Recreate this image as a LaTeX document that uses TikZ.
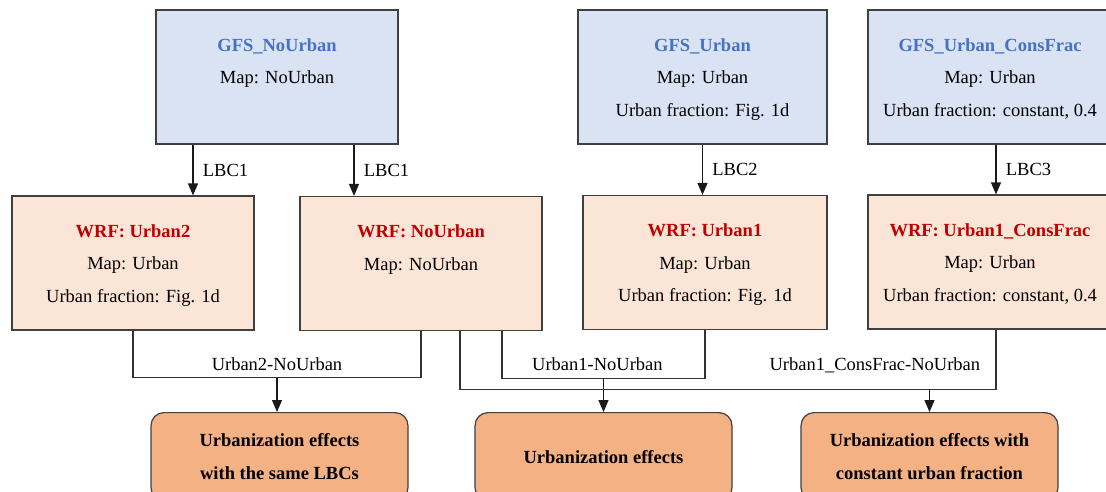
\documentclass[tikz,border=0pt]{standalone}
\usepackage{fontspec}
\setmainfont{Liberation Serif}
\usepackage{xcolor}
\definecolor{gfsfill}{HTML}{DAE3F3}
\definecolor{gfsblue}{HTML}{4472C4}
\definecolor{wrffill}{HTML}{FBE5D6}
\definecolor{wrfred}{HTML}{C00000}
\definecolor{efffill}{HTML}{F4B183}
\newcommand{\gfsname}[1]{{\bfseries\color{gfsblue}#1}}
\newcommand{\wrfname}[1]{{\bfseries\color{wrfred}#1}}
\usetikzlibrary{arrows.meta}

\begin{document}
\begin{tikzpicture}[
  x=1pt, y=-1pt,
  font=\fontsize{18.5}{32.5}\selectfont,
  box/.style={draw=black!75, line width=1.2pt, align=center, inner sep=0pt,
              minimum height=134pt},
  gbox/.style={box, fill=gfsfill},
  wbox/.style={box, fill=wrffill},
  ebox/.style={box, fill=efffill, rounded corners=13pt, minimum width=257pt,
               minimum height=88pt, font=\fontsize{18.5}{32.5}\selectfont\bfseries},
  arr/.style={-{Triangle[length=12pt,width=10pt]}, line width=1.2pt, draw=black!90},
  link/.style={line width=1.2pt, draw=black!80}
]
  \useasboundingbox (0,0) rectangle (1106,491);
  \clip (0,0) rectangle (1106,491);

  % GFS runs
  \node[gbox, minimum width=242pt] (gnu) at (277,77)
    {\strut\gfsname{GFS\_NoUrban}\\ Map: NoUrban\\ \strut};
  \node[gbox, minimum width=249pt] (gu) at (702.5,77)
    {\strut\gfsname{GFS\_Urban}\\ Map: Urban\\ Urban fraction: Fig. 1d\strut};
  \node[gbox, minimum width=244pt] (gcf) at (990,77)
    {\strut\gfsname{GFS\_Urban\_ConsFrac}\\ Map: Urban\\ Urban fraction: constant, 0.4\strut};

  % WRF runs
  \node[wbox, minimum width=242pt] (wu2) at (133,263)
    {\strut\wrfname{WRF: Urban2}\\ Map: Urban\\ Urban fraction: Fig. 1d\strut};
  \node[wbox, minimum width=242pt] (wnu) at (421,263.5)
    {\strut\wrfname{WRF: NoUrban}\\ Map: NoUrban\\ \strut};
  \node[wbox, minimum width=244pt] (wu1) at (705,262.5)
    {\strut\wrfname{WRF: Urban1}\\ Map: Urban\\ Urban fraction: Fig. 1d\strut};
  \node[wbox, minimum width=244pt] (wcf) at (990,262)
    {\strut\wrfname{WRF: Urban1\_ConsFrac}\\ Map: Urban\\ Urban fraction: constant, 0.4\strut};

  % effects
  \node[ebox, anchor=north] (e1) at (279.5,412) {\strut Urbanization effects\\ with the same LBCs\strut};
  \node[ebox, anchor=north] (e2) at (603.5,412) {\strut Urbanization effects\strut};
  \node[ebox, anchor=north] (e3) at (929.5,412) {\strut Urbanization effects with\\ constant urban fraction\strut};

  % boundary conditions
  \coordinate (a1) at ([xshift=-84]gnu.south);
  \coordinate (a2) at ([xshift=77]gnu.south);
  \coordinate (a4) at ([xshift=6]gcf.south);
  \draw[arr] (a1) -- (a1 |- wu2.north) node[midway, right=6pt] {LBC1};
  \draw[arr] (a2) -- (a2 |- wnu.north) node[midway, right=6pt] {LBC1};
  \draw[arr] (gu.south) -- (gu.south |- wu1.north) node[midway, right=6pt] {LBC2};
  \draw[arr] (a4) -- (a4 |- wcf.north) node[midway, right=6pt] {LBC3};

  % differences
  \coordinate (b1) at ([xshift=81]wnu.south);
  \coordinate (b2) at ([xshift=39]wnu.south);
  \coordinate (b3) at ([xshift=6]wcf.south);
  \draw[link] (wu2.south) -- ++(0,47) -| (wnu.south)
    node[pos=.25, above=3pt] {Urban2-NoUrban} coordinate[pos=.25] (m1);
  \draw[link] (b1) -- ++(0,47) -| (wu1.south)
    node[pos=.235, above=3pt] {Urban1-NoUrban} coordinate[pos=.25] (m2);
  \draw[link] (b2) -- ++(0,58) -| (b3)
    node[pos=.387, above=12pt] {Urban1\_ConsFrac-NoUrban} coordinate[pos=.25] (m3);
  \draw[arr] (m1) -- (m1 |- e1.north);
  \draw[arr] (m2) -- (m2 |- e2.north);
  \draw[arr] (e3.north |- m3) -- (e3.north);
\end{tikzpicture}
\end{document}
